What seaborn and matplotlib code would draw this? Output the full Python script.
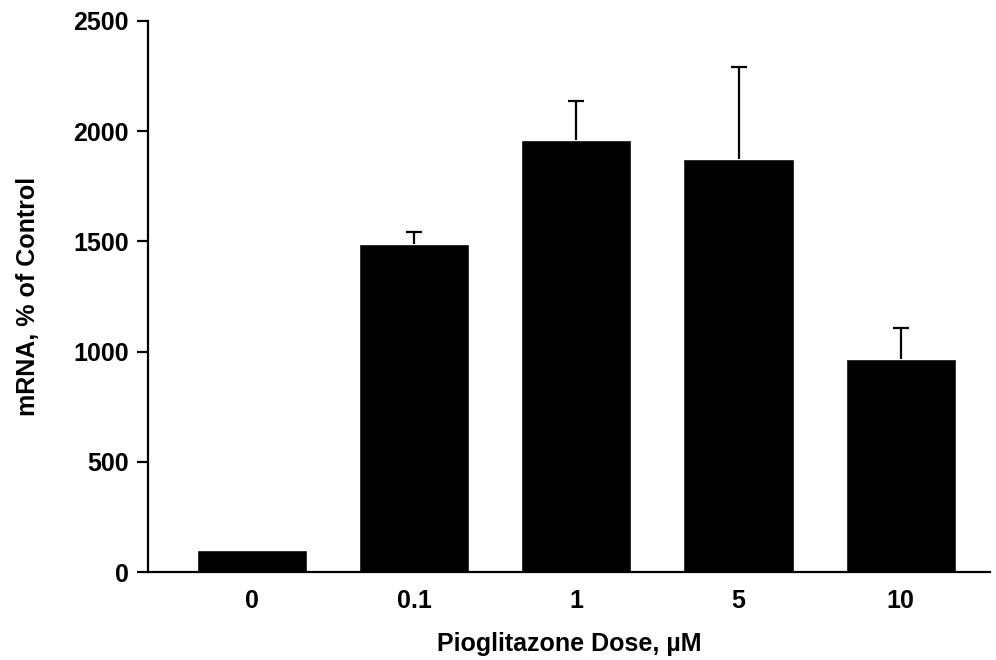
import matplotlib
matplotlib.use("Agg")
import numpy as np
import pandas as pd
import seaborn as sns
from matplotlib import pyplot as plt

# values
doses = ["0", "0.1", "1", "5", "10"]
mrna = [100, 1488, 1960, 1872, 965]
err_up = [0, 55, 178, 418, 140]

df = pd.DataFrame({"dose": doses, "mrna": mrna})

sns.set_style("ticks")
plt.rcParams['font.family'] = ['Liberation Sans', 'DejaVu Sans']
plt.rcParams['text.color'] = 'black'
plt.rcParams['axes.labelcolor'] = 'black'
plt.rcParams['xtick.color'] = 'black'
plt.rcParams['ytick.color'] = 'black'

fig = plt.figure(figsize=(9.96, 6.6), dpi=100)
ax = fig.add_axes([0.1486, 0.1333, 0.8454, 0.835])

sns.barplot(data=df, x="dose", y="mrna", color="black", saturation=1,
            width=0.68, errorbar=None, ax=ax)

# upper-only error bars
x = np.arange(len(doses))
eb = ax.errorbar(x[1:], mrna[1:], yerr=[np.zeros(len(doses) - 1), err_up[1:]],
                 fmt="none", ecolor="black", elinewidth=1.6, capsize=6, capthick=1.6)
eb.lines[1][0].set_visible(False)  # hide lower caps

ax.set_ylim(0, 2500)
ax.set_xlim(-0.64, 4.55)
ax.set_yticks([0, 500, 1000, 1500, 2000, 2500])

sns.despine(ax=ax)
ax.spines['left'].set_linewidth(1.6)
ax.spines['bottom'].set_linewidth(1.6)
ax.spines['left'].set_color('black')
ax.spines['bottom'].set_color('black')
ax.tick_params(axis='y', length=8, width=1.6, labelsize=18, pad=6)
ax.tick_params(axis='x', length=0, labelsize=18, pad=12)
for lab in ax.get_xticklabels() + ax.get_yticklabels():
    lab.set_fontweight('bold')

ax.set_xlabel("Pioglitazone Dose, µM", fontsize=18, fontweight='bold', labelpad=14)
ax.set_ylabel("mRNA, % of Control", fontsize=18, fontweight='bold')
ax.yaxis.set_label_coords(-0.128, 0.5)

fig.savefig("out.png", dpi=100)
